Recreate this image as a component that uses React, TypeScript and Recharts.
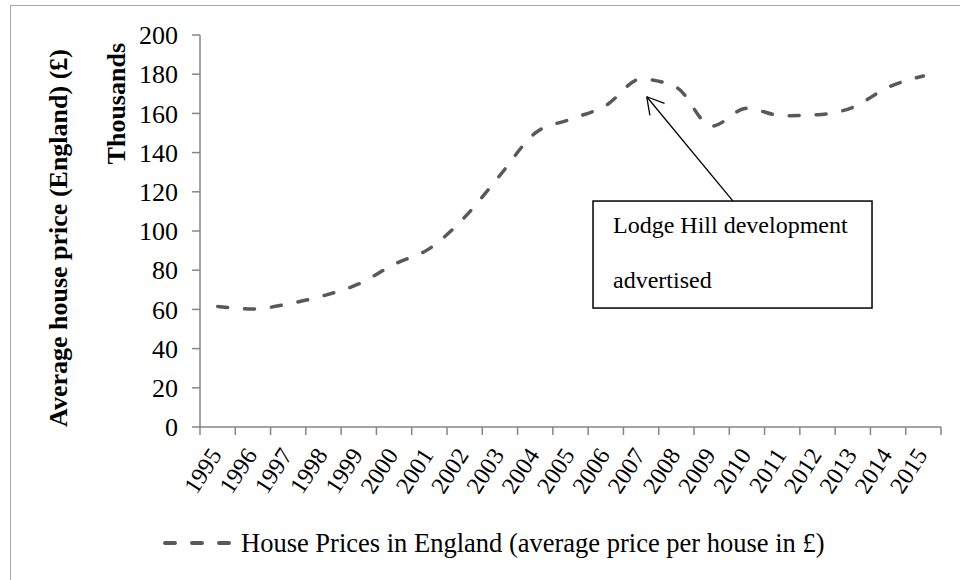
import React from 'react';
import { LineChart, Line, XAxis, YAxis, Legend, ReferenceDot, Label } from 'recharts';

const years = ['1995', '1996', '1997', '1998', '1999', '2000', '2001', '2002', '2003', '2004', '2005', '2006', '2007', '2008', '2009', '2010', '2011', '2012', '2013', '2014', '2015'];
const prices = [61.5, 60.2, 62.8, 67, 73, 83, 91, 107, 128.4, 150, 157, 164, 177.5, 173.3, 153.5, 162.6, 158.8, 159.3, 163.1, 173.3, 179.1];
const yTicks = [0, 20, 40, 60, 80, 100, 120, 140, 160, 180, 200];
const seriesName = 'House Prices in England (average price per house in £)';
const yTitle = 'Average house price (England) (£)';
const yUnits = 'Thousands';
const annotationLines = ['Lodge Hill development', 'advertised'];
const annotationX = 12.66;
const annotationY = 168.5;

const FONT = '"Liberation Serif", "Times New Roman", serif';
const AXIS = '#868686';
const SERIES = '#595959';

const data = years.map((year, i) => ({ year, pos: i + 0.5, price: prices[i] }));
const xTicks: number[] = [];
for (let i = 0; i <= years.length; i++) {
  xTicks.push(i);
  if (i < years.length) xTicks.push(i + 0.5);
}

const XTick = (props: any) => {
  const { x, y, payload } = props;
  const v = payload.value;
  if (Number.isInteger(v)) {
    return <line x1={x} y1={y} x2={x} y2={y + 8} stroke={AXIS} strokeWidth={1.5} />;
  }
  const label = years[Math.floor(v)];
  const ax = x + 5;
  const ay = y + 28;
  return (
    <text x={ax} y={ay} transform={`rotate(-57 ${ax} ${ay})`} textAnchor="end" fontSize={24} fontFamily={FONT} fill="#000">
      {label}
    </text>
  );
};

const YTitle = (props: any) => {
  const vb = props.viewBox || { x: 0, y: 35, width: 200, height: 392 };
  const cy = vb.y + vb.height / 2 + 7;
  const tx = 125;
  const ty = vb.y + 8;
  return (
    <g>
      <text x={67} y={cy} transform={`rotate(-90 67 ${cy})`} textAnchor="middle" fontSize={26} fontWeight="bold" fontFamily={FONT} fill="#000">
        {yTitle}
      </text>
      <text x={tx} y={ty} transform={`rotate(-90 ${tx} ${ty})`} textAnchor="end" fontSize={26} fontWeight="bold" fontFamily={FONT} fill="#000">
        {yUnits}
      </text>
    </g>
  );
};

const Annotation = (props: any) => {
  const { cx, cy } = props;
  if (cx == null || cy == null) return null;
  const bx = cx - 53.7;
  const by = cy + 104.3;
  return (
    <g>
      <line x1={cx + 86.3} y1={by} x2={cx} y2={cy} stroke="#000" strokeWidth={1.3} />
      <line x1={cx} y1={cy} x2={cx + 3.2} y2={cy + 18.7} stroke="#000" strokeWidth={1.3} />
      <line x1={cx} y1={cy} x2={cx + 17.8} y2={cy + 6.6} stroke="#000" strokeWidth={1.3} />
      <rect x={bx} y={by} width={279} height={107} fill="#fff" stroke="#000" strokeWidth={1.5} />
      <text x={bx + 20} y={by + 32} fontSize={24} fontFamily={FONT} fill="#000">{annotationLines[0]}</text>
      <text x={bx + 20} y={by + 87} fontSize={24} fontFamily={FONT} fill="#000">{annotationLines[1]}</text>
    </g>
  );
};

const renderLegend = (props: any) => {
  const p = props && props.payload && props.payload[0];
  const label = p && p.value ? p.value : seriesName;
  return (
    <svg width={960} height={50} style={{ display: 'block' }}>
      <line x1={165} y1={23} x2={231} y2={23} stroke={SERIES} strokeWidth={4} strokeDasharray="10 17" strokeLinecap="round" />
      <text x={241} y={31.7} fontSize={26.5} fontFamily={FONT} fill="#000">{label}</text>
    </svg>
  );
};

export default function App() {
  return (
    <div style={{ position: 'absolute', left: 0, top: 0, width: 960, height: 580, background: '#fff', fontFamily: FONT }}>
      <div style={{ position: 'absolute', left: 10, top: 5, width: 950, height: 575, borderTop: '1.5px solid #a6a6a6', borderLeft: '1.5px solid #a6a6a6', boxSizing: 'border-box' }} />
      <LineChart width={960} height={580} data={data} margin={{ top: 35, right: 19, bottom: 0, left: 0 }}>
        <XAxis
          dataKey="pos"
          type="number"
          domain={[0, years.length]}
          ticks={xTicks}
          interval={0}
          height={153}
          tickSize={0}
          tickMargin={0}
          tickLine={false}
          axisLine={{ stroke: AXIS, strokeWidth: 1.5 }}
          tick={<XTick />}
          allowDataOverflow
        />
        <YAxis
          type="number"
          domain={[0, 200]}
          ticks={yTicks}
          interval={0}
          width={200}
          tickSize={8}
          tickMargin={14}
          axisLine={{ stroke: AXIS, strokeWidth: 1.5 }}
          tickLine={{ stroke: AXIS, strokeWidth: 1.5 }}
          tick={{ fontSize: 26, fontFamily: FONT, fill: '#000' }}
        >
          <Label content={<YTitle />} />
        </YAxis>
        <Line
          type="monotone"
          dataKey="price"
          name={seriesName}
          stroke={SERIES}
          strokeWidth={3.5}
          strokeDasharray="10 17"
          strokeLinecap="round"
          dot={false}
          activeDot={false}
          isAnimationActive={false}
        />
        <ReferenceDot x={annotationX} y={annotationY} ifOverflow="visible" shape={<Annotation />} />
        <Legend
          verticalAlign="middle"
          align="center"
          layout="horizontal"
          wrapperStyle={{ position: 'absolute', left: 0, top: 520, width: 960, height: 50 }}
          content={renderLegend}
        />
      </LineChart>
    </div>
  );
}
